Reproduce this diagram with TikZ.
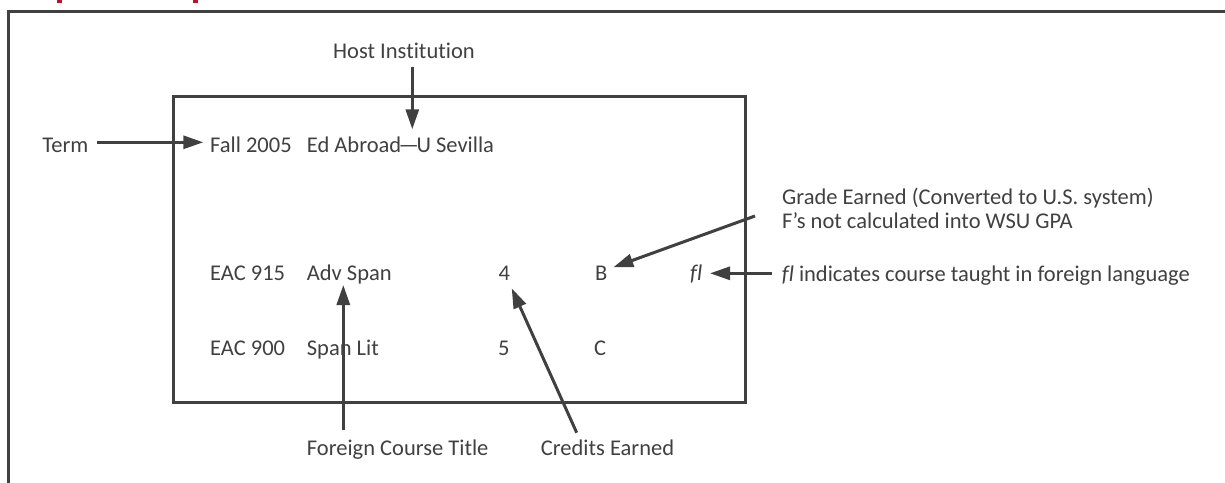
\documentclass[tikz,border=0pt]{standalone}
\usepackage{fontspec}
\setmainfont{Carlito}[RawFeature={-liga;-clig;-dlig;-calt}]
\usetikzlibrary{arrows.meta}
\definecolor{ink}{HTML}{404040}
\definecolor{brand}{HTML}{B3162C}
\begin{document}
\begin{tikzpicture}[x=1pt,y=-1pt,
  lbl/.style={anchor=base west,inner sep=0pt,text=ink,font=\fontsize{22.5}{27}\selectfont},
  frame/.style={draw=ink,line width=3pt},
  pointer/.style={draw=ink,line width=3pt,-{Triangle[length=20pt,width=13pt]}}]
\useasboundingbox (0,0) rectangle (1225,482);
\clip (0,0) rectangle (1225,482);

% heading descenders peeking in at the top edge
\fill[brand] (57.3,-2) rectangle (62,2.7);
\fill[brand] (193.3,-2) rectangle (198.3,2.7);

% outer panel and transcript box
\draw[frame] (8,495) -- (8,11) -- (1240,11);
\draw[frame] (173.5,96) rectangle (745.5,402);

% transcript entries
\node[lbl] (fall)   at (210,152)   {Fall 2005};
\node[lbl] (abroad) at (306.7,152) {Ed Abroad\kern-2.5pt—\kern-2.5pt U Sevilla};
\node[lbl] (eac915) at (210,280)   {EAC 915};
\node[lbl] (adv)    at (306.7,280) {Adv Span};
\node[lbl] (cr4)    at (498.3,280) {4};
\node[lbl] (grB)    at (595,280)   {B};
\node[lbl] (fl)     at (690,280)   {\itshape fl};
\node[lbl] (eac900) at (210,355)   {EAC 900};
\node[lbl] (lit)    at (306.7,355) {Span Lit};
\node[lbl] (cr5)    at (498,355)   {5};
\node[lbl] (grC)    at (594,355)   {C};

% callouts
\node[lbl] (host)   at (333,58)    {Host Institution};
\node[lbl,anchor=base east] (term) at (88.5,152) {Term};
\node[lbl] (gradeA) at (782,204)   {Grade Earned (Converted to U.S. system)};
\node[lbl] (gradeB) at (782,228)   {F’s not calculated into WSU GPA};
\node[lbl] (flnote) at (781.7,281) {\textit{fl} indicates course taught in foreign language};
\node[lbl] (title)  at (306.7,455) {Foreign Course Title};
\node[lbl] (credit) at (540.7,455) {Credits Earned};

% pointers
\draw[pointer] ([shift={(8.2,-9.7)}]term.base east) -- ([shift={(-6.7,-9.7)}]fall.base west);
\draw[pointer] ([shift={(79.3,9)}]host.base west) -- ([shift={(105.6,-22.7)}]abroad.base west);
\draw[pointer] ([shift={(36.6,-25)}]title.base west) -- ([shift={(36.6,5)}]adv.base west);
\draw[pointer] ([shift={(36,-22.3)}]credit.base west) -- ([shift={(13.4,8.3)}]cr4.base west);
\draw[pointer] ([shift={(-27,-12)}]gradeB.base west) -- ([shift={(18.3,-12.7)}]grB.base west);
\draw[pointer] ([shift={(-10,-7.7)}]flnote.base west) -- ([shift={(20,-6.7)}]fl.base west);
\end{tikzpicture}
\end{document}
